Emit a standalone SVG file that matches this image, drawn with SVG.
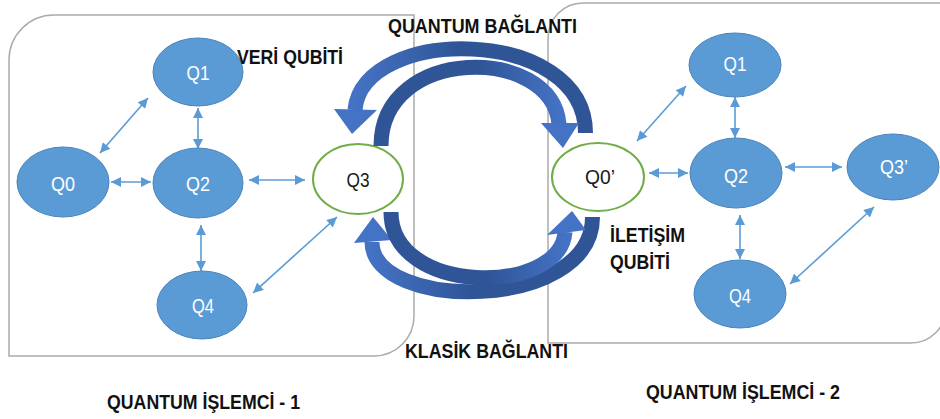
<svg xmlns="http://www.w3.org/2000/svg" width="940" height="419" viewBox="0 0 940 419">
<style>
.box{fill:none;stroke:#ABABAB;stroke-width:1.5}
.qn{fill:#5B9BD5;stroke:#4A84BC;stroke-width:1}
.qc{fill:#FFFFFF;stroke:#70AD47;stroke-width:2}
.nl{font-family:"Liberation Sans Narrow","Liberation Sans",Arial,sans-serif;font-size:21px;text-anchor:middle}
.w{fill:#FFFFFF}
.k{fill:#1A1A1A}
.lb{font-family:"Liberation Sans Narrow","Liberation Sans",Arial,sans-serif;font-size:20px;font-weight:bold;fill:#111111}
.con{fill:none;stroke:#5B9BD5;stroke-width:1.6;marker-start:url(#ah);marker-end:url(#ah)}
.band{fill:none;stroke-width:15;stroke-linecap:butt}
.head{fill:#4472C4}
</style>
<defs>
<marker id="ah" viewBox="0 0 10 10" refX="10" refY="5" markerWidth="11" markerHeight="10" markerUnits="userSpaceOnUse" orient="auto-start-reverse">
<path d="M0,0 L10,5 L0,10 z" fill="#5B9BD5"/>
</marker>
<linearGradient id="gTO" gradientUnits="userSpaceOnUse" x1="586" y1="0" x2="355" y2="0">
<stop offset="0" stop-color="#2F5597"/><stop offset="0.55" stop-color="#2F5597"/><stop offset="1" stop-color="#4472C4"/>
</linearGradient>
<linearGradient id="gTI" gradientUnits="userSpaceOnUse" x1="381" y1="0" x2="560" y2="0">
<stop offset="0" stop-color="#2F5597"/><stop offset="0.55" stop-color="#2F5597"/><stop offset="1" stop-color="#4472C4"/>
</linearGradient>
<linearGradient id="gBI" gradientUnits="userSpaceOnUse" x1="391" y1="0" x2="566" y2="0">
<stop offset="0" stop-color="#2F5597"/><stop offset="0.55" stop-color="#2F5597"/><stop offset="1" stop-color="#4472C4"/>
</linearGradient>
<linearGradient id="gBO" gradientUnits="userSpaceOnUse" x1="593" y1="0" x2="372" y2="0">
<stop offset="0" stop-color="#2F5597"/><stop offset="0.55" stop-color="#2F5597"/><stop offset="1" stop-color="#4472C4"/>
</linearGradient>
</defs>

<g id="processor-1">
<path class="box" d="M9 356 L9 60 A45 45 0 0 1 54 15 L414 15 L414 316 A40 40 0 0 1 374 356 Z"/>
</g>
<g id="processor-2">
<path class="box" d="M548 343 L548 38 A35 35 0 0 1 583 3 L946 3 L946 308 A35 35 0 0 1 911 343 Z"/>
</g>

<g id="connectors">
<line class="con" x1="100" y1="153" x2="148" y2="98"/>
<line class="con" x1="198" y1="108" x2="198" y2="149"/>
<line class="con" x1="111" y1="182" x2="151" y2="182"/>
<line class="con" x1="249" y1="180" x2="305" y2="180"/>
<line class="con" x1="201" y1="225" x2="201" y2="271"/>
<line class="con" x1="253" y1="293" x2="337" y2="217"/>
<line class="con" x1="637" y1="141" x2="686" y2="86"/>
<line class="con" x1="735" y1="97" x2="735" y2="138"/>
<line class="con" x1="649" y1="173" x2="688" y2="173"/>
<line class="con" x1="785" y1="167" x2="842" y2="167"/>
<line class="con" x1="740" y1="215" x2="740" y2="259"/>
<line class="con" x1="790" y1="284" x2="874" y2="207"/>
</g>

<g id="L-Q1"><ellipse class="qn" cx="198" cy="72" rx="45" ry="34"/><text class="nl w" x="198" y="80" textLength="23" lengthAdjust="spacingAndGlyphs">Q1</text></g>
<g id="L-Q0"><ellipse class="qn" cx="63" cy="182" rx="46" ry="35"/><text class="nl w" x="63" y="191" textLength="24" lengthAdjust="spacingAndGlyphs">Q0</text></g>
<g id="L-Q2"><ellipse class="qn" cx="198" cy="183" rx="45" ry="35"/><text class="nl w" x="198" y="191" textLength="24" lengthAdjust="spacingAndGlyphs">Q2</text></g>
<g id="L-Q3"><ellipse class="qc" cx="358" cy="179" rx="45" ry="35"/><text class="nl k" x="358" y="187" textLength="23" lengthAdjust="spacingAndGlyphs">Q3</text></g>
<g id="L-Q4"><ellipse class="qn" cx="202" cy="305" rx="45" ry="34"/><text class="nl w" x="203" y="313" textLength="22" lengthAdjust="spacingAndGlyphs">Q4</text></g>

<g id="R-Q1"><ellipse class="qn" cx="735" cy="65" rx="46" ry="32"/><text class="nl w" x="735" y="71" textLength="23" lengthAdjust="spacingAndGlyphs">Q1</text></g>
<g id="R-Q2"><ellipse class="qn" cx="736" cy="173" rx="46" ry="35"/><text class="nl w" x="736" y="183" textLength="24" lengthAdjust="spacingAndGlyphs">Q2</text></g>
<g id="R-Q3p"><ellipse class="qn" cx="893" cy="167" rx="46" ry="33"/><text class="nl w" x="894" y="174" textLength="28" lengthAdjust="spacingAndGlyphs">Q3’</text></g>
<g id="R-Q0p"><ellipse class="qc" cx="598" cy="177" rx="46" ry="34"/><text class="nl k" x="600" y="184" textLength="30" lengthAdjust="spacingAndGlyphs">Q0’</text></g>
<g id="R-Q4"><ellipse class="qn" cx="740" cy="294" rx="46" ry="34"/><text class="nl w" x="740" y="303" textLength="22" lengthAdjust="spacingAndGlyphs">Q4</text></g>

<g id="links">
<path class="band" stroke="url(#gTO)" d="M585.5 133 C585.5 25 362 25 355 110"/>
<polygon class="head" points="334,109 377,110 352,134"/>
<path class="band" stroke="url(#gTI)" d="M381 146 C381 45 552 45 559 124"/>
<polygon class="head" points="541,123 579,123 563,148"/>
<path class="band" stroke="url(#gBO)" d="M592.5 217 C592.5 312 372 312 372 242"/>
<polygon class="head" points="354,243 392,240 373,217"/>
<path class="band" stroke="url(#gBI)" d="M391 212 C391 296 560 296 565 232"/>
<polygon class="head" points="547,235 586,230 572,211"/>
</g>

<g id="labels">
<text class="lb" x="388" y="33" textLength="189" lengthAdjust="spacingAndGlyphs">QUANTUM BAĞLANTI</text>
<text class="lb" x="237" y="64" textLength="106" lengthAdjust="spacingAndGlyphs">VERİ QUBİTİ</text>
<text class="lb" x="405" y="358" textLength="163" lengthAdjust="spacingAndGlyphs">KLASİK BAĞLANTI</text>
<text class="lb" x="610" y="242" textLength="75" lengthAdjust="spacingAndGlyphs">İLETİŞİM</text>
<text class="lb" x="610" y="269" textLength="60" lengthAdjust="spacingAndGlyphs">QUBİTİ</text>
<text class="lb" x="107" y="409" textLength="193" lengthAdjust="spacingAndGlyphs">QUANTUM İŞLEMCİ - 1</text>
<text class="lb" x="646" y="399" textLength="194" lengthAdjust="spacingAndGlyphs">QUANTUM İŞLEMCİ - 2</text>
</g>
</svg>
